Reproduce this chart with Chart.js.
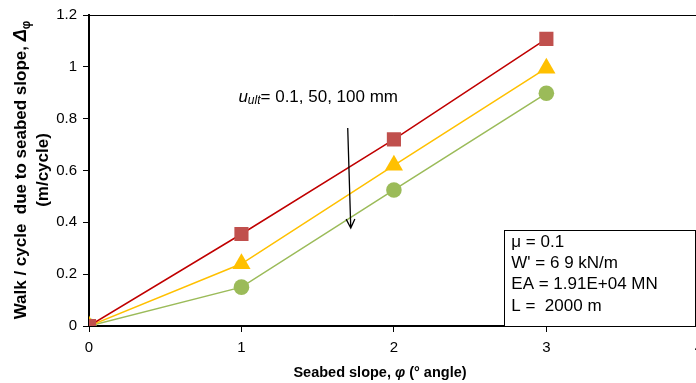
<!DOCTYPE html>
<html>
<head>
<meta charset="utf-8">
<script src="https://cdn.jsdelivr.net/npm/chart.js@4/dist/chart.umd.min.js"></script>
<style>
  html, body { margin: 0; padding: 0; background: #fff; width: 696px; height: 383px; overflow: hidden; }
  #wrap { width: 710px; height: 383px; }
</style>
</head>
<body>
<div id="wrap"><canvas id="c" width="710" height="383"></canvas></div>
<script>
// Seabed slope (degrees)
const slopes = [0, 1, 2, 3];
// Walk per cycle (m/cycle) for u_ult = 0.1, 50 and 100 mm
const walkU01 = [0, 0.355, 0.72, 1.108];
const walkU50 = [0, 0.24, 0.62, 0.995];
const walkU100 = [0, 0.15, 0.525, 0.898];
const xTicks = ['0', '1', '2', '3', '4'];
const yTicks = ['0', '0.2', '0.4', '0.6', '0.8', '1', '1.2'];
const boxLines = ['\u03bc = 0.1', "W' = 6 9 kN/m", 'EA = 1.91E+04 MN', 'L =  2000 m'];

const pts = arr => slopes.map((s, i) => ({ x: s, y: arr[i] }));
const FONT = '"Liberation Sans", Arial, sans-serif';

const overlay = {
  id: 'overlay',
  afterDraw(chart) {
    const { ctx, chartArea: a, scales: { x, y } } = chart;
    ctx.save();
    // plot frame top / right
    ctx.strokeStyle = '#000';
    ctx.lineWidth = 1;
    ctx.beginPath();
    ctx.moveTo(a.left, a.top + 0.5);
    ctx.lineTo(a.right, a.top + 0.5);
    ctx.lineTo(a.right, a.bottom);
    ctx.stroke();

    // parameter box
    const bx0 = x.getPixelForValue(2.724), bx1 = x.getPixelForValue(3.975);
    const by0 = y.getPixelForValue(0.370), by1 = y.getPixelForValue(0);
    ctx.fillStyle = '#fff';
    ctx.fillRect(bx0, by0, bx1 - bx0, by1 - by0);
    ctx.strokeRect(Math.round(bx0) + 0.5, Math.round(by0) + 0.5, Math.round(bx1 - bx0), Math.round(by1 - by0));
    ctx.fillStyle = '#000';
    ctx.font = '17px ' + FONT;
    ctx.textBaseline = 'middle';
    ctx.textAlign = 'left';
    boxLines.forEach((t, i) => ctx.fillText(t, bx0 + 7, by0 + 12 + i * 21.3));

    // u_ult annotation
    let tx = x.getPixelForValue(0.98), ty = y.getPixelForValue(0.883);
    ctx.font = 'italic 17px ' + FONT;
    ctx.fillText('u', tx, ty);
    tx += ctx.measureText('u').width;
    ctx.font = 'italic 12px ' + FONT;
    ctx.fillText('ult', tx, ty + 4);
    tx += ctx.measureText('ult').width;
    ctx.font = '17px ' + FONT;
    ctx.fillText('= 0.1, 50, 100 mm', tx, ty);

    // arrow
    const ax0 = x.getPixelForValue(1.697), ay0 = y.getPixelForValue(0.764);
    const ax1 = x.getPixelForValue(1.717), ay1 = y.getPixelForValue(0.378);
    ctx.lineWidth = 1.3;
    ctx.beginPath();
    ctx.moveTo(ax0, ay0);
    ctx.lineTo(ax1, ay1);
    const ang = Math.atan2(ay1 - ay0, ax1 - ax0);
    const L = 10, w = 0.45;
    ctx.moveTo(ax1 - L * Math.cos(ang - w), ay1 - L * Math.sin(ang - w));
    ctx.lineTo(ax1, ay1);
    ctx.lineTo(ax1 - L * Math.cos(ang + w), ay1 - L * Math.sin(ang + w));
    ctx.stroke();

    // x axis title
    ctx.textBaseline = 'alphabetic';
    const xParts = [
      ['bold 14.5px ' + FONT, 'Seabed slope, '],
      ['bold italic 14.5px ' + FONT, '\u03c6'],
      ['bold 14.5px ' + FONT, ' (\u00b0 angle)']
    ];
    let tw = 0;
    xParts.forEach(p => { ctx.font = p[0]; tw += ctx.measureText(p[1]).width; });
    let px = 380 - tw / 2;
    xParts.forEach(p => { ctx.font = p[0]; ctx.fillText(p[1], px, 377); px += ctx.measureText(p[1]).width; });

    // y axis title (rotated, two lines)
    ctx.rotate(-Math.PI / 2);
    const yParts = [
      ['bold 17px ' + FONT, 'Walk / cycle  due to seabed slope, ', 0],
      ['bold italic 18px ' + FONT, '\u0394', 0],
      ['bold 12px ' + FONT, '\u03c6', 4]
    ];
    tw = 0;
    yParts.forEach(p => { ctx.font = p[0]; tw += ctx.measureText(p[1]).width; });
    const cy = 170;
    let py = -cy - tw / 2;
    yParts.forEach(p => { ctx.font = p[0]; ctx.fillText(p[1], py, 26 + p[2]); py += ctx.measureText(p[1]).width; });
    ctx.font = 'bold 17px ' + FONT;
    ctx.textAlign = 'center';
    ctx.fillText('(m/cycle)', -cy, 48);
    ctx.restore();
  }
};

new Chart(document.getElementById('c'), {
  type: 'scatter',
  data: {
    datasets: [
      { label: 'u_ult = 0.1 mm', data: pts(walkU01), showLine: true,
        borderColor: '#C00000', borderWidth: 1.5, pointStyle: 'rect', pointRadius: 10,
        pointBackgroundColor: '#C0504D', pointBorderColor: '#C0504D', pointBorderWidth: 0 },
      { label: 'u_ult = 50 mm', data: pts(walkU50), showLine: true,
        borderColor: '#FFC000', borderWidth: 1.5, pointStyle: 'triangle', pointRadius: 10.5,
        pointBackgroundColor: '#FFC000', pointBorderColor: '#FFC000', pointBorderWidth: 0 },
      { label: 'u_ult = 100 mm', data: pts(walkU100), showLine: true,
        borderColor: '#9BBB59', borderWidth: 1.5, pointStyle: 'circle', pointRadius: 7.8,
        pointBackgroundColor: '#9BBB59', pointBorderColor: '#9BBB59', pointBorderWidth: 0 }
    ]
  },
  options: {
    responsive: false,
    animation: false,
    events: [],
    layout: { padding: { left: 0, right: 6, top: 15, bottom: 0 } },
    plugins: { legend: { display: false }, tooltip: { enabled: false } },
    scales: {
      x: {
        type: 'linear', min: 0, max: 4,
        afterFit: s => { s.height = 57; },
        afterBuildTicks: s => { s.ticks = xTicks.map(v => ({ value: Number(v) })); },
        ticks: { callback: (v, i) => xTicks[i], color: '#000', font: { family: FONT, size: 15 }, padding: 7, maxRotation: 0 },
        grid: { drawOnChartArea: false, color: '#000', tickLength: 6, lineWidth: 1 },
        border: { color: '#000', width: 2 }
      },
      y: {
        type: 'linear', min: 0, max: 1.2,
        afterFit: s => { s.width = 89; },
        afterBuildTicks: s => { s.ticks = yTicks.map(v => ({ value: Number(v) })); },
        ticks: { callback: (v, i) => yTicks[i], color: '#000', font: { family: FONT, size: 15 }, padding: 6 },
        grid: { drawOnChartArea: false, color: '#000', tickLength: 6, lineWidth: 1 },
        border: { color: '#000', width: 2 }
      }
    }
  },
  plugins: [overlay]
});
</script>
</body>
</html>
